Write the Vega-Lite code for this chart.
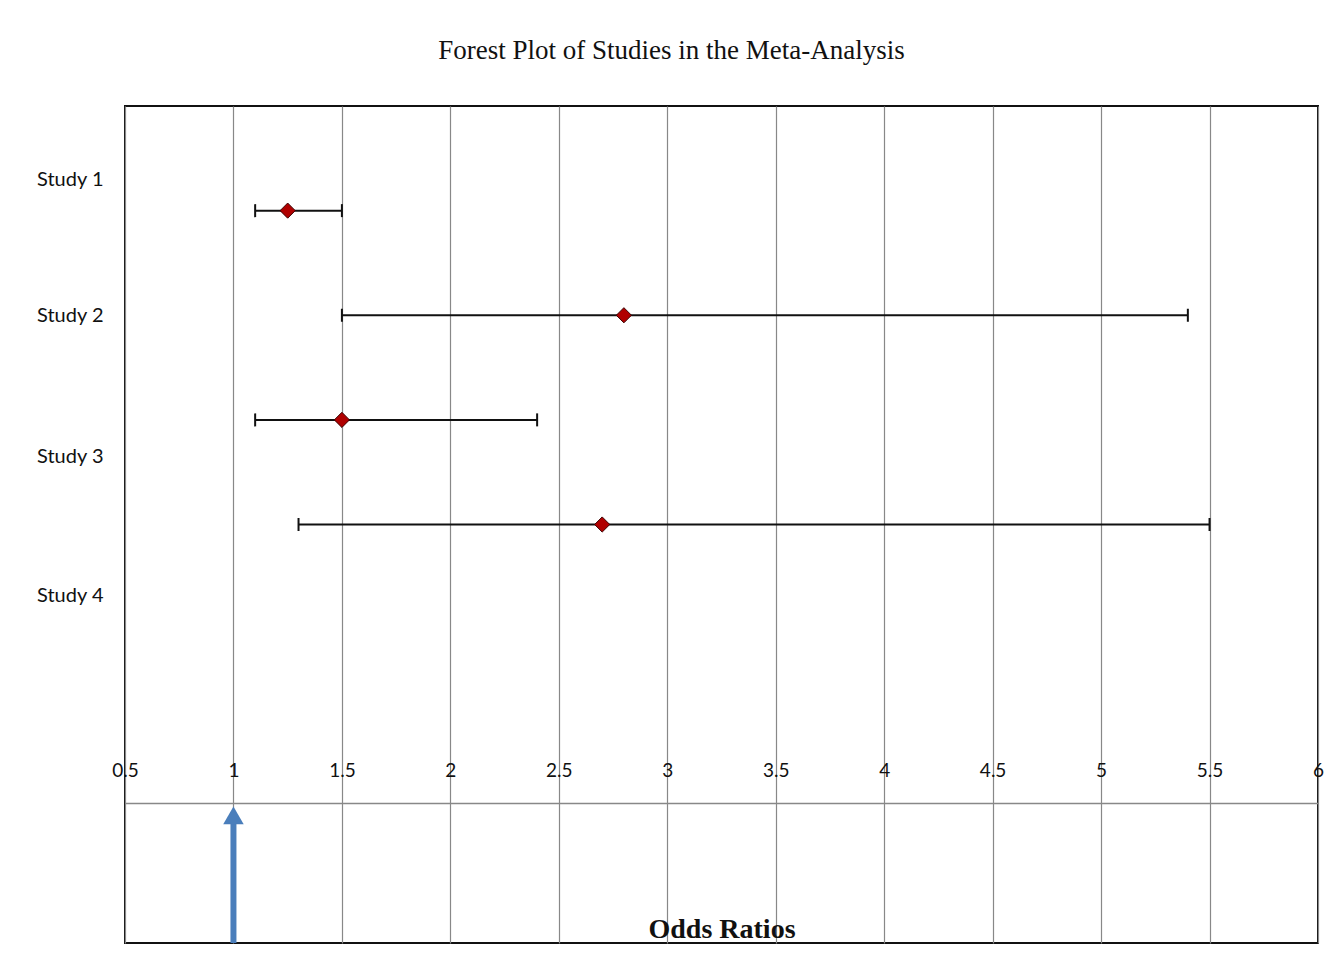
{
  "$schema": "https://vega.github.io/schema/vega-lite/v6.json",
  "width": 1193,
  "height": 837,
  "autosize": "none",
  "padding": {"left": 125, "top": 106, "right": 11, "bottom": 28},
  "background": "white",
  "config": {
    "view": {"stroke": "#111", "strokeWidth": 2},
    "axis": {"labelFont": "Lato", "labelColor": "#111"}
  },
  "title": {
    "text": "Forest Plot of Studies in the Meta-Analysis",
    "font": "Liberation Serif",
    "fontSize": 27,
    "fontWeight": "normal",
    "color": "#111",
    "anchor": "middle",
    "baseline": "alphabetic",
    "dx": -50,
    "offset": 20
  },
  "datasets": {
    "studies": [
      {"study": "Study 1", "or": 1.25, "lo": 1.1, "hi": 1.5, "row": 7},
      {"study": "Study 2", "or": 2.8, "lo": 1.5, "hi": 5.4, "row": 6},
      {"study": "Study 3", "or": 1.5, "lo": 1.1, "hi": 2.4, "row": 5},
      {"study": "Study 4", "or": 2.7, "lo": 1.3, "hi": 5.5, "row": 4}
    ],
    "arrow": [
      {"ref": 1, "base": 0, "tip": 1.22}
    ]
  },
  "layer": [
    {
      "data": {"name": "arrow"},
      "mark": {"type": "rule", "color": "#4a7ebb", "strokeWidth": 6},
      "encoding": {
        "x": {
          "field": "ref", "type": "quantitative",
          "scale": {"domain": [0.5, 6], "nice": false, "zero": false},
          "axis": {
            "orient": "top",
            "offset": -697,
            "values": [0.5, 1, 1.5, 2, 2.5, 3, 3.5, 4, 4.5, 5, 5.5, 6],
            "labelExpr": "datum.value + ''",
            "labelFontSize": 19,
            "labelPadding": 23,
            "labelFlush": false,
            "labelOverlap": false,
            "ticks": false,
            "domain": true,
            "domainColor": "#888",
            "domainWidth": 1.5,
            "grid": true,
            "gridColor": "#888",
            "gridWidth": 1.2,
            "gridOpacity": 1,
            "title": "Odds Ratios",
            "titleFont": "Liberation Serif",
            "titleFontSize": 28,
            "titleFontWeight": "bold",
            "titleColor": "#111",
            "titleBaseline": "alphabetic",
            "titleY": 134
          }
        },
        "y": {
          "field": "base", "type": "quantitative",
          "scale": {"domain": [0, 8], "nice": false, "zero": false},
          "axis": {
            "orient": "left",
            "values": [7.3, 6, 4.65, 3.32],
            "labelExpr": "datum.value > 7 ? 'Study 1' : datum.value > 5.5 ? 'Study 2' : datum.value > 4 ? 'Study 3' : 'Study 4'",
            "labelFontSize": 20,
            "labelPadding": 22,
            "ticks": false,
            "domain": false,
            "grid": false,
            "title": null
          }
        },
        "y2": {"field": "tip"}
      }
    },
    {
      "data": {"name": "arrow"},
      "mark": {"type": "point", "shape": "triangle-up", "filled": true, "color": "#4a7ebb", "size": 420, "opacity": 1},
      "encoding": {
        "x": {"field": "ref", "type": "quantitative"},
        "y": {"field": "tip", "type": "quantitative"}
      }
    },
    {
      "data": {"name": "studies"},
      "mark": {"type": "rule", "color": "#111", "strokeWidth": 2},
      "encoding": {
        "x": {"field": "lo", "type": "quantitative"},
        "x2": {"field": "hi"},
        "y": {"field": "row", "type": "quantitative"}
      }
    },
    {
      "data": {"name": "studies"},
      "mark": {"type": "point", "shape": "M0,-1L0,1", "stroke": "#111", "strokeWidth": 2, "size": 169, "opacity": 1},
      "encoding": {
        "x": {"field": "lo", "type": "quantitative"},
        "y": {"field": "row", "type": "quantitative"}
      }
    },
    {
      "data": {"name": "studies"},
      "mark": {"type": "point", "shape": "M0,-1L0,1", "stroke": "#111", "strokeWidth": 2, "size": 169, "opacity": 1},
      "encoding": {
        "x": {"field": "hi", "type": "quantitative"},
        "y": {"field": "row", "type": "quantitative"}
      }
    },
    {
      "data": {"name": "studies"},
      "mark": {"type": "point", "shape": "diamond", "filled": true, "fill": "#b00000", "stroke": "#3a0000", "strokeWidth": 1, "size": 230, "opacity": 1},
      "encoding": {
        "x": {"field": "or", "type": "quantitative"},
        "y": {"field": "row", "type": "quantitative"}
      }
    }
  ]
}
